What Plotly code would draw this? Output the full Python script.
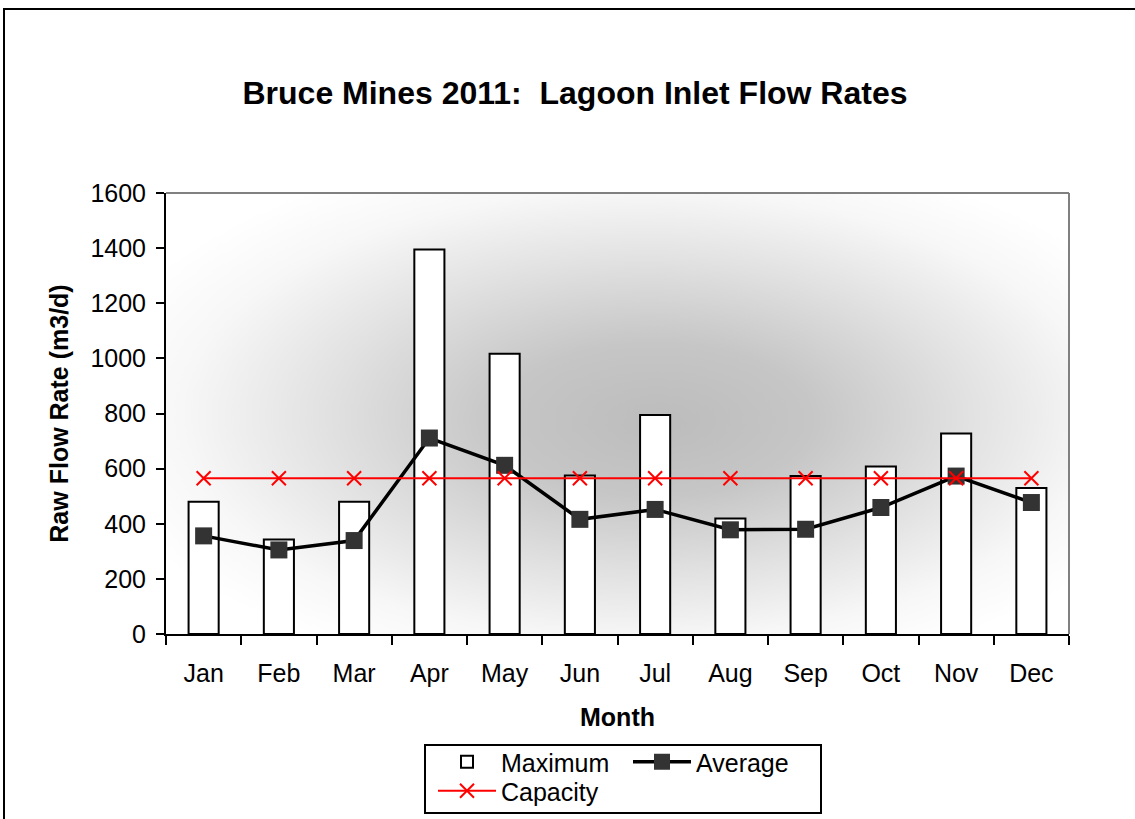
import base64
import plotly.graph_objects as go

months = ["Jan", "Feb", "Mar", "Apr", "May", "Jun", "Jul", "Aug", "Sep", "Oct", "Nov", "Dec"]
maximum = [480, 343, 480, 1395, 1017, 575, 795, 419, 573, 608, 727, 530]
average = [356, 305, 339, 711, 612, 416, 452, 378, 380, 459, 573, 477]
capacity = [565] * 12

FONT = "Liberation Sans, Arial, sans-serif"

# plot-area background gradient (styling only)
svg = (
    '<svg xmlns="http://www.w3.org/2000/svg" width="900" height="440" viewBox="0 0 900 440" preserveAspectRatio="none">'
    '<defs><radialGradient id="g" cx="0.52" cy="0.5" r="0.62" fx="0.55" fy="0.52" gradientUnits="objectBoundingBox">'
    '<stop offset="0" stop-color="#bcbcbc"/>'
    '<stop offset="0.28" stop-color="#c6c6c6"/>'
    '<stop offset="0.58" stop-color="#e2e2e2"/>'
    '<stop offset="0.82" stop-color="#f7f7f7"/>'
    '<stop offset="1" stop-color="#ffffff"/>'
    '</radialGradient></defs>'
    '<rect x="0" y="0" width="900" height="440" fill="url(#g)"/></svg>'
)
svg_uri = "data:image/svg+xml;base64," + base64.b64encode(svg.encode()).decode()

fig = go.Figure()
fig.add_trace(go.Bar(
    x=months, y=maximum, name="Maximum", width=0.4,
    marker=dict(color="white", line=dict(color="black", width=2)),
    legend="legend",
))
fig.add_trace(go.Scatter(
    x=months, y=average, name="Average", mode="lines+markers",
    line=dict(color="black", width=3.5),
    marker=dict(symbol="square", size=17, color="#333333", line=dict(width=0)),
    legend="legend",
))
fig.add_trace(go.Scatter(
    x=months, y=capacity, name="Capacity", mode="lines+markers",
    line=dict(color="#ff0000", width=2),
    marker=dict(symbol="x-thin", size=14, color="#ff0000", line=dict(color="#ff0000", width=2)),
    legend="legend2",
))

W, H = 1135, 819
L, R, T, B = 166, 66, 193, 185
pw, ph = W - L - R, H - T - B

def px(xp):
    return (xp - L) / pw

def py(yp):
    return (H - B - yp) / ph

fig.update_layout(
    width=W, height=H,
    margin=dict(l=L, r=R, t=T, b=B, autoexpand=False),
    paper_bgcolor="white",
    plot_bgcolor="rgba(0,0,0,0)",
    font=dict(family=FONT, color="black", size=25),
    title=dict(
        text="Bruce Mines 2011:\u00a0\u00a0Lagoon Inlet Flow Rates",
        font=dict(family=FONT, size=32, color="black", weight="bold"),
        x=575 / W, xref="container", xanchor="center",
        y=1 - 93 / H, yref="container", yanchor="middle",
    ),
    showlegend=True,
    legend=dict(
        orientation="h", x=433 / W, y=1 - 739 / H, xref="container", yref="container",
        xanchor="left", yanchor="top",
        bgcolor="rgba(0,0,0,0)", borderwidth=0, itemwidth=58,
        font=dict(family=FONT, size=25), entrywidth=122, entrywidthmode="pixels",
    ),
    legend2=dict(
        orientation="h", x=433 / W, y=1 - 768 / H, xref="container", yref="container",
        xanchor="left", yanchor="top",
        bgcolor="rgba(0,0,0,0)", borderwidth=0, itemwidth=58,
        font=dict(family=FONT, size=25),
    ),
    images=[dict(
        source=svg_uri, xref="paper", yref="paper", x=0, y=1,
        sizex=1, sizey=1, sizing="stretch", xanchor="left", yanchor="top",
        layer="below",
    )],
    shapes=[
        # outer chart border
        dict(type="rect", xref="paper", yref="paper",
             x0=px(4), x1=px(1145), y0=py(830), y1=py(9),
             line=dict(color="black", width=2), fillcolor="rgba(0,0,0,0)"),
        # plot-area top & right border
        dict(type="line", xref="paper", yref="paper", x0=0, x1=1, y0=1, y1=1,
             line=dict(color="#808080", width=2)),
        dict(type="line", xref="paper", yref="paper", x0=1, x1=1, y0=0, y1=1,
             line=dict(color="#808080", width=2)),
        # legend box
        dict(type="rect", xref="paper", yref="paper",
             x0=px(425), x1=px(821), y0=py(813), y1=py(745),
             line=dict(color="black", width=2), fillcolor="rgba(0,0,0,0)"),
    ],
    xaxis=dict(
        type="category", range=[-0.5, len(months) - 0.5],
        showline=True, linecolor="black", linewidth=2,
        ticks="outside", tickson="boundaries", ticklen=9, tickwidth=2, tickcolor="black",
        showgrid=False, ticklabelstandoff=16, automargin=False,
        tickfont=dict(family=FONT, size=25),
        title=dict(text="Month", font=dict(family=FONT, size=25, weight="bold"), standoff=22),
    ),
    yaxis=dict(
        range=[0, 1600], dtick=200, showline=True, linecolor="black", linewidth=2,
        ticks="outside", ticklen=8, tickwidth=2, tickcolor="black",
        showgrid=False, zeroline=False, ticklabelstandoff=5, automargin=False,
        tickfont=dict(family=FONT, size=25),
        title=dict(text="Raw Flow Rate (m3/d)", font=dict(family=FONT, size=25, weight="bold"), standoff=15),
    ),
)

fig.write_html(
    "out.html",
    config={"displayModeBar": False},
    post_script="document.body.style.margin='0';document.body.style.overflow='hidden';",
)
